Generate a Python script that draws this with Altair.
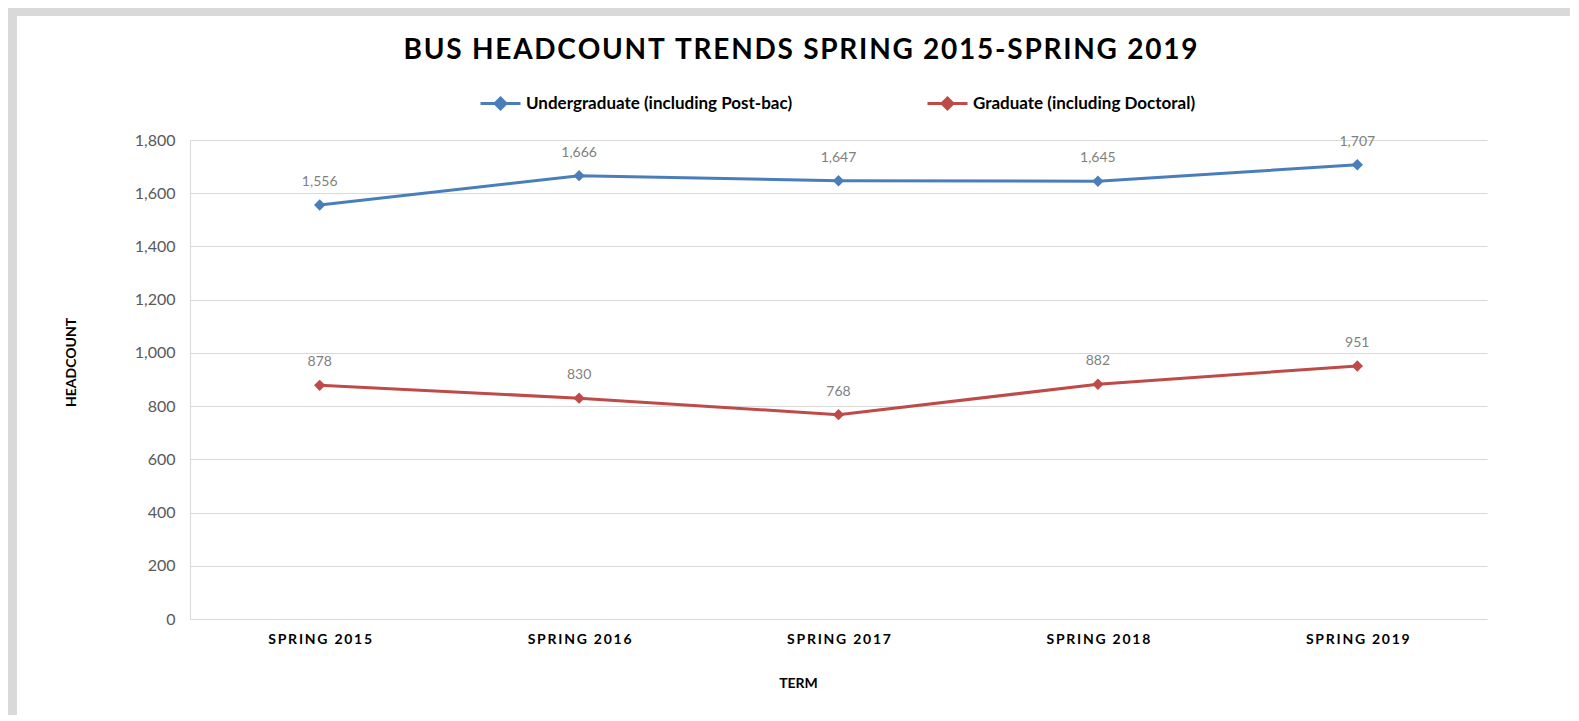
import altair as alt
import pandas as pd

title_text = "BUS HEADCOUNT TRENDS SPRING 2015-SPRING 2019"
terms = ["SPRING 2015", "SPRING 2016", "SPRING 2017", "SPRING 2018", "SPRING 2019"]
undergrad = [1556, 1666, 1647, 1645, 1707]
graduate = [878, 830, 768, 882, 951]
series_names = ["Undergraduate (including Post-bac)", "Graduate (including Doctoral)"]
series_colors = ["#4A7EBB", "#BE4B48"]

rows = []
for t, u, g in zip(terms, undergrad, graduate):
    rows.append({"term": t, "series": series_names[0], "value": u})
    rows.append({"term": t, "series": series_names[1], "value": g})
df = pd.DataFrame(rows)

W, H = 1297, 479
PL, PT, PR, PB = 182, 132, 83, 96
FONT = "Lato"
GRAY = "#d9d9d9"

left_strip = alt.Chart(alt.Data(values=[{"a": 1}])).mark_rect(color=GRAY).encode(
    x=alt.value(-PL), x2=alt.value(-PL + 9),
    y=alt.value(-PT), y2=alt.value(H + PB),
)
top_strip = alt.Chart(alt.Data(values=[{"a": 1}])).mark_rect(color=GRAY).encode(
    x=alt.value(-PL), x2=alt.value(W + PR),
    y=alt.value(-PT), y2=alt.value(-PT + 8),
)

base = alt.Chart(df)

x_enc = alt.X(
    "term:N", sort=terms,
    scale=alt.Scale(type="point", padding=0.5),
    axis=alt.Axis(
        title="TERM", titleFont=FONT, titleFontSize=14, titleFontWeight="bold",
        titleColor="black", titleX=608, titleY=64, titleBaseline="middle",
        labelFont=FONT, labelFontSize=14, labelFontWeight="bold", labelColor="black",
        labelExpr="join(split(datum.label, ''), '\u2009')",
        labelAngle=0, labelPadding=13, ticks=False, domain=False, grid=False,
    ),
)
y_enc = alt.Y(
    "value:Q",
    scale=alt.Scale(domain=[0, 1800], nice=False),
    axis=alt.Axis(
        title="HEADCOUNT", titleFont=FONT, titleFontSize=14, titleFontWeight="bold",
        titleColor="black", titleX=-119, titleY=222, titleAngle=-90,
        titleBaseline="middle",
        values=list(range(0, 1801, 200)), format=",d",
        labelFont=FONT, labelFontSize=16, labelColor="#595959", labelPadding=15,
        ticks=False, domain=True, domainColor=GRAY, domainWidth=1,
        grid=True, gridColor=GRAY, gridWidth=1,
    ),
)
color_enc = alt.Color(
    "series:N",
    scale=alt.Scale(domain=series_names, range=series_colors),
    legend=alt.Legend(
        title=None, orient="none", legendX=289, legendY=-58, direction="horizontal",
        symbolType="M-1,0L1,0M0,-0.27L0.27,0L0,0.27L-0.27,0Z",
        symbolSize=1600, symbolStrokeWidth=3,
        labelFont=FONT, labelFontSize=17, labelFontWeight="bold", labelColor="black",
        labelOffset=4, columnPadding=128, labelLimit=400,
    ),
)

lines = base.mark_line(
    strokeWidth=3,
    point=alt.OverlayMarkDef(shape="diamond", size=130, filled=True, opacity=1),
).encode(x=x_enc, y=y_enc, color=color_enc)

labels = base.mark_text(
    dy=-23, baseline="middle", font=FONT, fontSize=14, color="#7f7f7f"
).encode(
    x=alt.X("term:N", sort=terms),
    y="value:Q",
    text=alt.Text("value:Q", format=","),
)

chart = alt.layer(left_strip, top_strip, lines, labels).properties(
    width=W, height=H,
    title=alt.TitleParams(
        "\u200a".join(title_text),
        font=FONT, fontSize=28, fontWeight="bold", color="black",
        anchor="middle", frame="group", dx=-38, offset=-79, baseline="alphabetic",
    ),
    autosize=alt.AutoSizeParams(type="none"),
    padding={"left": PL, "top": PT, "right": PR, "bottom": PB},
    background="white",
).configure_view(stroke=None)

chart.save("out.html", embed_options={"renderer": "svg", "actions": False})
